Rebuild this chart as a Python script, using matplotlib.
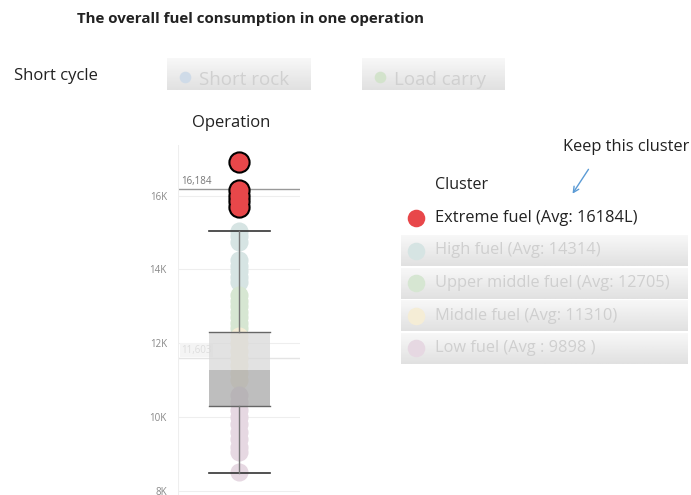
import numpy as np
import matplotlib
matplotlib.use("Agg")
import matplotlib.pyplot as plt

plt.rcParams['font.family'] = ['Open Sans', 'DejaVu Sans']

# data
clusters = ["Extreme fuel (Avg: 16184L)", "High fuel (Avg: 14314)",
            "Upper middle fuel (Avg: 12705)", "Middle fuel (Avg: 11310)",
            "Low fuel (Avg : 9898 )"]
extreme = [16900, 16150, 16000, 15850, 15700]
high = [15050, 14900, 14750, 14250, 14100, 13950, 13800, 13650]
upper_mid = [13300, 13150, 13000, 12850, 12700, 12550, 12400]
middle = [12200, 12000, 11800, 11600, 11400, 11200, 11000]
low = [10600, 10400, 10200, 10000, 9800, 9600, 9400, 9200, 9050, 8500]
box_stats = {"whislo": 8490, "q1": 10300, "med": 11270, "q3": 12300, "whishi": 15050}
ref_lines = [16184, 11603]
yticks = [8000, 10000, 12000, 14000, 16000]
ytick_labels = ["8K", "10K", "12K", "14K", "16K"]
buttons = ["Short rock", "Load carry"]

faded = ["#d6e4e3", "#d6e6d2", "#f5edd6", "#e6d8e2"]
red = "#e8474a"

fig = plt.figure(figsize=(6.91, 4.95), dpi=100)

# background overlay in pixel coords
bg = fig.add_axes([0, 0, 1, 1])
bg.set_xlim(0, 691)
bg.set_ylim(495, 0)
bg.axis("off")

bg.text(77, 19, "The overall fuel consumption in one operation", fontsize=10.9,
        fontweight="bold", va="center", ha="left", color="#222222")
bg.text(14, 76, "Short cycle", fontsize=12, va="center", color="#222222")

# faded buttons
grad = np.linspace(0.97, 0.88, 50).reshape(-1, 1)
for (x0, x1), lab, col in zip([(167, 311), (362, 505)], buttons, ["#cfdbe8", "#d3e3cc"]):
    bg.imshow(grad, cmap="gray", vmin=0, vmax=1, extent=(x0, x1, 90, 58), aspect="auto", zorder=1)
    bg.scatter([x0 + 18], [77], s=70, color=col, zorder=2, linewidths=0)
    bg.text(x0 + 32, 80, lab, fontsize=13.5, color="#d0d0d0", va="center", zorder=3)

bg.text(231, 123, "Operation", fontsize=12, ha="center", va="center", color="#222222")

# legend
bg.text(435, 185, "Cluster", fontsize=11.5, va="center", color="#222222")
leg_colors = [red] + faded
for i, (lab, col) in enumerate(zip(clusters, leg_colors)):
    yc = 218 + i * 32.5
    if i > 0:
        bg.imshow(grad, cmap="gray", vmin=0, vmax=1,
                  extent=(401, 688, yc + 16, yc - 15), aspect="auto", zorder=1)
        tcol = "#cfcfcf"
    else:
        tcol = "#222222"
    bg.scatter([416], [yc], s=160, color=col, zorder=2, linewidths=0)
    bg.text(435, yc, lab, fontsize=11.8, color=tcol, va="center", zorder=3)

bg.text(563, 147, "Keep this cluster", fontsize=11.8, va="center", color="#222222")
bg.annotate("", xy=(571, 196), xytext=(590, 167),
            arrowprops=dict(arrowstyle="->", color="#5b9bd5", lw=1))

# main plot
ax = fig.add_axes([178 / 691, 0, 122 / 691, (495 - 145) / 495])
ax.set_xlim(-1, 1)
ax.set_ylim(7890, 17370)
for s in ax.spines.values():
    s.set_visible(False)
ax.set_xticks([])
ax.set_yticks(yticks)
ax.set_yticklabels(ytick_labels, fontsize=7, color="#888888")
ax.tick_params(axis="y", length=0, pad=8)
ax.grid(axis="y", color="#eeeeee", lw=0.8)
ax.axvline(-1, color="#eeeeee", lw=0.8)

for vals, col in zip([high, upper_mid, middle, low], faded):
    ax.scatter(np.zeros(len(vals)), vals, s=170, color=col, linewidths=0, zorder=2)

# box
ax.add_patch(plt.Rectangle((-0.5, box_stats["med"]), 1.0, box_stats["q3"] - box_stats["med"],
                           color="#d9d9d9", alpha=0.75, lw=0, zorder=3))
ax.add_patch(plt.Rectangle((-0.5, box_stats["q1"]), 1.0, box_stats["med"] - box_stats["q1"],
                           color="#a9a9a9", alpha=0.75, lw=0, zorder=3))
for v in [box_stats["q1"], box_stats["q3"]]:
    ax.plot([-0.5, 0.5], [v, v], color="#666666", lw=1, zorder=4)
for v in [box_stats["whislo"], box_stats["whishi"]]:
    ax.plot([-0.5, 0.5], [v, v], color="#333333", lw=1.2, zorder=4)
ax.plot([0, 0], [box_stats["q3"], box_stats["whishi"]], color="#777777", lw=1, zorder=4)
ax.plot([0, 0], [box_stats["whislo"], box_stats["q1"]], color="#777777", lw=1, zorder=4)

# reference lines
ax.axhline(ref_lines[0], color="#999999", lw=1, zorder=1)
ax.text(-0.95, ref_lines[0] + 60, f"{ref_lines[0]:,}", fontsize=7, color="#777777", va="bottom")
ax.axhline(ref_lines[1], color="#e4e4e4", lw=1, zorder=1)
ax.text(-0.95, ref_lines[1] + 60, f"{ref_lines[1]:,}", fontsize=7, color="#dddddd", va="bottom",
        bbox=dict(facecolor="#f4f4f4", edgecolor="none", pad=1), zorder=2)

# extreme cluster: outline underneath, fill on top so overlapping marks merge
ax.scatter(np.zeros(len(extreme)), extreme, s=170, color=red, edgecolors="black",
           linewidths=3, zorder=5)
ax.scatter(np.zeros(len(extreme)), extreme, s=170, color=red, linewidths=0, zorder=6)

fig.savefig("out.png", dpi=100)
